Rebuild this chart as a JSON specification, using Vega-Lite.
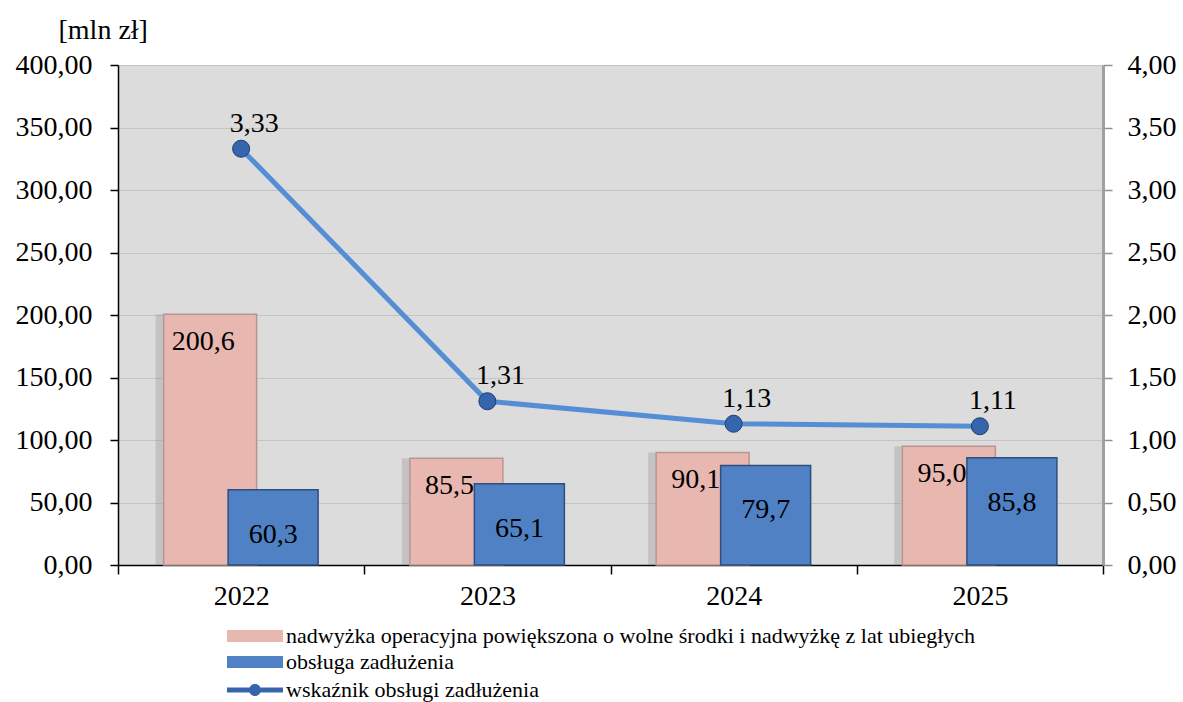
{
  "$schema": "https://vega.github.io/schema/vega-lite/v6.json",
  "width": 985,
  "height": 500,
  "autosize": {"type": "none"},
  "padding": {"left": 118, "top": 65, "right": 80, "bottom": 137},
  "background": "white",
  "config": {
    "locale": {"number": {"decimal": ",", "thousands": " ", "grouping": [3], "currency": ["", " zł"]}},
    "font": "Liberation Serif",
    "view": {"fill": "#DCDCDC", "stroke": null},
    "axis": {"labelFont": "Liberation Serif", "labelFontSize": 28, "labelColor": "black", "titleFont": "Liberation Serif"},
    "legend": {"labelFont": "Liberation Serif", "labelFontSize": 22, "labelColor": "black", "labelLimit": 0, "padding": 0, "symbolStrokeWidth": 0}
  },
  "data": {
    "values": [
      {"year": "2022", "series": "nadwyżka operacyjna powiększona o wolne środki i nadwyżkę z lat ubiegłych", "value": 200.6},
      {"year": "2023", "series": "nadwyżka operacyjna powiększona o wolne środki i nadwyżkę z lat ubiegłych", "value": 85.5},
      {"year": "2024", "series": "nadwyżka operacyjna powiększona o wolne środki i nadwyżkę z lat ubiegłych", "value": 90.1},
      {"year": "2025", "series": "nadwyżka operacyjna powiększona o wolne środki i nadwyżkę z lat ubiegłych", "value": 95.0},
      {"year": "2022", "series": "obsługa zadłużenia", "value": 60.3},
      {"year": "2023", "series": "obsługa zadłużenia", "value": 65.1},
      {"year": "2024", "series": "obsługa zadłużenia", "value": 79.7},
      {"year": "2025", "series": "obsługa zadłużenia", "value": 85.8},
      {"year": "2022", "series": "wskaźnik obsługi zadłużenia", "value": 3.33},
      {"year": "2023", "series": "wskaźnik obsługi zadłużenia", "value": 1.31},
      {"year": "2024", "series": "wskaźnik obsługi zadłużenia", "value": 1.13},
      {"year": "2025", "series": "wskaźnik obsługi zadłużenia", "value": 1.11}
    ]
  },
  "encoding": {
    "x": {
      "field": "year", "type": "nominal",
      "scale": {"paddingInner": 0, "paddingOuter": 0},
      "axis": {"title": null, "labelAngle": 0, "domainColor": "black", "domainWidth": 1.5, "tickColor": "black", "tickWidth": 1.5, "tickSize": 9, "tickBand": "extent", "labelPadding": 8, "grid": false}
    }
  },
  "layer": [
    {
      "encoding": {
        "y": {
          "field": "value", "type": "quantitative",
          "scale": {"domain": [0, 400], "nice": false},
          "axis": {
            "title": "[mln zł]", "titleAngle": 0, "titleX": -60, "titleY": -35, "titleAlign": "left", "titleBaseline": "middle",
            "titleFontSize": 28, "titleFontWeight": "normal", "titleColor": "black",
            "values": [0, 50, 100, 150, 200, 250, 300, 350, 400], "format": ".2f",
            "domainColor": "black", "domainWidth": 1.5, "tickColor": "black", "tickWidth": 1.5, "tickSize": 8, "labelPadding": 18,
            "grid": true, "gridColor": "#C4C4C4", "gridWidth": 1
          }
        }
      },
      "layer": [
        {
          "transform": [{"filter": {"field": "series", "equal": "nadwyżka operacyjna powiększona o wolne środki i nadwyżkę z lat ubiegłych"}}],
          "mark": {"type": "bar", "width": 93, "xOffset": -39, "color": "#8C8C8C", "opacity": 0.3},
          "encoding": {}
        },
        {
          "transform": [{"filter": {"field": "series", "equal": "nadwyżka operacyjna powiększona o wolne środki i nadwyżkę z lat ubiegłych"}}],
          "mark": {"type": "bar", "width": 93, "xOffset": -31, "stroke": "#B99591", "strokeWidth": 1.5},
          "encoding": {
            "color": {
              "field": "series", "type": "nominal",
              "scale": {
                "domain": ["nadwyżka operacyjna powiększona o wolne środki i nadwyżkę z lat ubiegłych", "obsługa zadłużenia"],
                "range": ["#E8B7B0", "#4F81C4"]
              },
              "legend": {
                "title": null, "orient": "none", "legendX": 126, "legendY": 560, "direction": "vertical",
                "symbolType": "M-4.67,-1H4.67V1H-4.67Z", "symbolSize": 144, "labelOffset": 20, "rowPadding": 4
              }
            }
          }
        },
        {
          "transform": [{"filter": {"field": "series", "equal": "obsługa zadłużenia"}}],
          "mark": {"type": "bar", "width": 90, "xOffset": 32, "stroke": "#2E4F7E", "strokeWidth": 1.5},
          "encoding": {"color": {"field": "series", "type": "nominal"}}
        },
        {
          "transform": [{"filter": {"field": "series", "equal": "nadwyżka operacyjna powiększona o wolne środki i nadwyżkę z lat ubiegłych"}}],
          "mark": {"type": "text", "xOffset": -38, "dy": 28, "baseline": "middle", "fontSize": 28, "font": "Liberation Serif", "color": "black"},
          "encoding": {"text": {"field": "value", "type": "quantitative", "format": ".1f"}}
        },
        {
          "transform": [{"filter": {"field": "series", "equal": "obsługa zadłużenia"}}],
          "mark": {"type": "text", "xOffset": 32, "dy": 45, "baseline": "middle", "fontSize": 28, "font": "Liberation Serif", "color": "black"},
          "encoding": {"text": {"field": "value", "type": "quantitative", "format": ".1f"}}
        }
      ]
    },
    {
      "transform": [{"filter": {"field": "series", "equal": "wskaźnik obsługi zadłużenia"}}],
      "encoding": {
        "y": {
          "field": "value", "type": "quantitative",
          "scale": {"domain": [0, 4], "nice": false},
          "axis": {
            "title": null, "orient": "right",
            "values": [0, 0.5, 1, 1.5, 2, 2.5, 3, 3.5, 4], "format": ".2f",
            "domainColor": "#A0A0A0", "domainWidth": 3, "tickColor": "#909090", "tickWidth": 1.5, "tickSize": 9, "labelPadding": 15,
            "grid": false
          }
        }
      },
      "layer": [
        {
          "mark": {"type": "line", "strokeWidth": 5, "color": "#558ED5"},
          "encoding": {}
        },
        {
          "mark": {"type": "point", "filled": true, "size": 290, "opacity": 1, "stroke": "#1F3F70", "strokeWidth": 1},
          "encoding": {
            "fill": {
              "field": "series", "type": "nominal",
              "scale": {"domain": ["wskaźnik obsługi zadłużenia"], "range": ["#3566AD"]},
              "legend": {
                "title": null, "orient": "none", "legendX": 126, "legendY": 614, "direction": "vertical",
                "symbolType": "M-4.67,-0.42H4.67V0.42H-4.67Z M1,0A1,1 0 1 1 -1,0A1,1 0 1 1 1,0Z", "symbolSize": 144, "labelOffset": 20,
                "symbolFillColor": "#3F74C0"
              }
            }
          }
        },
        {
          "mark": {"type": "text", "dx": 13, "dy": -25, "baseline": "middle", "fontSize": 28, "font": "Liberation Serif", "color": "black"},
          "encoding": {"text": {"field": "value", "type": "quantitative", "format": ".2f"}}
        }
      ]
    }
  ],
  "resolve": {"scale": {"y": "independent"}}
}
